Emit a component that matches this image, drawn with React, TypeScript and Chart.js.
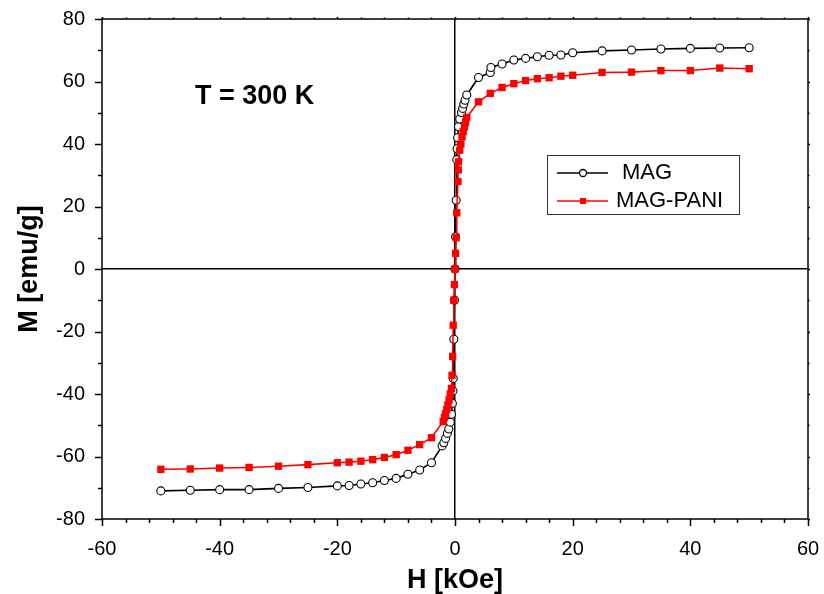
import React, { useEffect, useRef } from "react";
import { Chart, registerables } from "chart.js";

Chart.register(...registerables);

// ---- Data ----
const magH = [
  -50, -45, -40, -35, -30, -25, -20, -18, -16, -14, -12, -10, -8, -6, -4,
  -2.2, -1.9, -1.6, -1.3, -1.05, -0.8, -0.6, -0.45, -0.35, -0.3, -0.2, -0.1, 0,
  0.1, 0.2, 0.3, 0.35, 0.45, 0.6, 0.8, 1.1, 1.3, 1.5, 1.7, 2.0,
  4, 6, 6.1, 8, 10, 12, 14, 16, 18, 20, 25, 30, 35, 40, 45, 50,
];
const magM = [
  -71.0, -70.8, -70.6, -70.6, -70.2, -69.9, -69.4, -69.3, -68.8, -68.4, -67.7, -67.0, -65.7, -64.3, -62.0,
  -56.6, -55.6, -54.2, -52.6, -51.2, -49.0, -46.5, -43.0, -39.0, -35.0, -22.5, -10.0, 0,
  10.3, 22.0, 35.0, 38.5, 42.0, 45.5, 48.0, 50.1, 51.4, 52.8, 54.0, 55.7,
  61.3, 62.9, 64.5, 65.6, 66.9, 67.4, 67.9, 68.4, 68.5, 69.2, 69.8, 70.1, 70.4, 70.6, 70.7, 70.8,
];

const paniH = [
  -50, -45, -40, -35, -30, -25, -20, -18, -16, -14, -12, -10, -8, -6, -4,
  -2, -1.8, -1.6, -1.4, -1.2, -1.0, -0.8, -0.6, -0.5, -0.4, -0.3, -0.2, -0.1, 0,
  0.1, 0.2, 0.3, 0.5, 0.55, 0.6, 0.8, 1.0, 1.2, 1.4, 1.6, 1.8, 2,
  4, 6, 8, 10, 12, 14, 16, 18, 20, 25, 30, 35, 40, 45, 50,
];
const paniM = [
  -64.1, -64.0, -63.7, -63.5, -63.1, -62.6, -62.0, -61.8, -61.5, -61.0, -60.3, -59.4, -58.0, -56.2, -54.0,
  -48.8, -47.5, -46.3, -45.0, -43.5, -41.9, -40.0, -38.2, -34.0, -28.0, -18.0, -10.0, -5.0, 0,
  5.0, 10.0, 18.0, 28.0, 31.7, 34.3, 38.0, 40.0, 42.3, 44.0, 45.5, 47.0, 48.5,
  53.5, 56.2, 58.1, 59.3, 60.3, 60.9, 61.2, 61.7, 62.0, 62.9, 63.0, 63.5, 63.5, 64.3, 64.1,
];

const seriesLabels = ["MAG", "MAG-PANI"];
const xTickLabels = [-60, -40, -20, 0, 20, 40, 60];
const yTickLabels = [-80, -60, -40, -20, 0, 20, 40, 60, 80];
const xMinorStep = 4;
const yMinorStep = 10;
const xTitle = "H [kOe]";
const yTitle = "M [emu/g]";
const noteText = "T = 300 K";

const FONT = "'Liberation Sans', Arial, Helvetica, sans-serif";

const decorPlugin = {
  id: "decor",
  afterDraw(chart: any) {
    const { ctx, chartArea: a, scales } = chart;
    const xs = scales.x;
    const ys = scales.y;
    ctx.save();
    ctx.strokeStyle = "#000";
    ctx.lineWidth = 1.5;
    ctx.beginPath();
    const nx = Math.round((xs.max - xs.min) / xMinorStep);
    for (let i = 0; i <= nx; i++) {
      const v = xs.min + i * xMinorStep;
      const px = Math.round(xs.getPixelForValue(v)) + 0.5;
      const major = xTickLabels.includes(v);
      const len = major ? 7 : 4;
      ctx.moveTo(px, a.bottom);
      ctx.lineTo(px, a.bottom + len);
      ctx.moveTo(px, a.top);
      ctx.lineTo(px, a.top - (major ? 2 : 1.5));
    }
    const ny = Math.round((ys.max - ys.min) / yMinorStep);
    for (let i = 0; i <= ny; i++) {
      const v = ys.min + i * yMinorStep;
      const py = Math.round(ys.getPixelForValue(v)) + 0.5;
      const major = yTickLabels.includes(v);
      const len = major ? 7 : 4;
      ctx.moveTo(a.left, py);
      ctx.lineTo(a.left - len, py);
      ctx.moveTo(a.right, py);
      ctx.lineTo(a.right + (major ? 2 : 1.5), py);
    }
    ctx.stroke();
    ctx.strokeRect(a.left, a.top, a.right - a.left, a.bottom - a.top);

    // annotation text
    ctx.fillStyle = "#000";
    ctx.font = `bold 27px ${FONT}`;
    ctx.textAlign = "left";
    ctx.textBaseline = "middle";
    ctx.fillText(noteText, a.left + 93, a.top + 78);

    // legend
    const bx = a.left + 445;
    const by = a.top + 136;
    const bw = 192;
    const bh = 59;
    ctx.lineWidth = 1;
    ctx.strokeStyle = "#333";
    ctx.strokeRect(bx + 0.5, by + 0.5, bw, bh);
    const rows = [by + 18, by + 46];
    ctx.strokeStyle = "#000";
    ctx.lineWidth = 1.3;
    ctx.beginPath();
    ctx.moveTo(bx + 10, rows[0]);
    ctx.lineTo(bx + 61, rows[0]);
    ctx.stroke();
    ctx.beginPath();
    ctx.arc(bx + 36, rows[0], 3.5, 0, Math.PI * 2);
    ctx.fillStyle = "#fff";
    ctx.fill();
    ctx.stroke();
    ctx.strokeStyle = "#ff0000";
    ctx.beginPath();
    ctx.moveTo(bx + 10, rows[1]);
    ctx.lineTo(bx + 61, rows[1]);
    ctx.stroke();
    ctx.fillStyle = "#ff0000";
    ctx.fillRect(bx + 33, rows[1] - 3, 6, 6);
    ctx.fillStyle = "#000";
    ctx.font = `22px ${FONT}`;
    ctx.textBaseline = "middle";
    ctx.fillText(seriesLabels[0], bx + 75, rows[0]);
    ctx.fillText(seriesLabels[1], bx + 69, rows[1]);
    ctx.restore();
  },
};

export default function App() {
  const ref = useRef<HTMLCanvasElement | null>(null);

  useEffect(() => {
    document.body.style.margin = "0";
    const canvas = ref.current;
    if (!canvas) return;
    Chart.defaults.font.family = FONT;
    Chart.defaults.color = "#000";

    const zeroGrid = (c: any) => (c.tick && c.tick.value === 0 ? "#000" : "rgba(0,0,0,0)");

    const chart = new Chart(canvas, {
      type: "line",
      data: {
        datasets: [
          {
            label: seriesLabels[1],
            data: paniH.map((h, i) => ({ x: h, y: paniM[i] })),
            borderColor: "#ff0000",
            backgroundColor: "#ff0000",
            borderWidth: 1.6,
            pointStyle: "rect",
            pointRadius: 5.2,
            pointBorderWidth: 0,
            pointBackgroundColor: "#ff0000",
            tension: 0,
          },
          {
            label: seriesLabels[0],
            data: magH.map((h, i) => ({ x: h, y: magM[i] })),
            borderColor: "#000",
            backgroundColor: "#fff",
            borderWidth: 1.6,
            pointStyle: "circle",
            pointRadius: 4,
            pointBorderWidth: 1.1,
            pointBackgroundColor: "#fff",
            pointBorderColor: "#000",
            tension: 0,
          },
        ],
      },
      options: {
        animation: false,
        responsive: false,
        maintainAspectRatio: false,
        layout: { padding: { left: 0, top: 19, right: 16, bottom: 0 } },
        plugins: { legend: { display: false }, tooltip: { enabled: false } },
        scales: {
          x: {
            type: "linear",
            min: -60,
            max: 60,
            afterFit: (s: any) => {
              s.height = 75;
            },
            afterBuildTicks: (s: any) => {
              s.ticks = xTickLabels.map((v) => ({ value: v }));
            },
            ticks: {
              font: { size: 20 },
              color: "#000",
              padding: 0,
              maxRotation: 0,
              callback: (v: any) => String(v),
            },
            grid: {
              drawTicks: true,
              tickLength: 18,
              tickColor: "rgba(0,0,0,0)",
              color: zeroGrid,
              lineWidth: 1.5,
            },
            border: { display: false },
            title: {
              display: true,
              text: xTitle,
              font: { size: 27, weight: "bold", lineHeight: 1 },
              padding: { top: 0, bottom: 0 },
              color: "#000",
            },
          },
          y: {
            type: "linear",
            min: -80,
            max: 80,
            afterFit: (s: any) => {
              s.width = 102;
            },
            afterBuildTicks: (s: any) => {
              s.ticks = yTickLabels.map((v) => ({ value: v }));
            },
            ticks: {
              font: { size: 20 },
              color: "#000",
              padding: 0,
              callback: (v: any) => String(v),
            },
            grid: {
              drawTicks: true,
              tickLength: 17,
              tickColor: "rgba(0,0,0,0)",
              color: zeroGrid,
              lineWidth: 1.5,
            },
            border: { display: false },
            title: {
              display: true,
              text: yTitle,
              font: { size: 27, weight: "bold", lineHeight: 1 },
              padding: { top: 16, bottom: 0 },
              color: "#000",
            },
          },
        },
      },
      plugins: [decorPlugin],
    });
    return () => chart.destroy();
  }, []);

  return <canvas ref={ref} width={824} height={594} style={{ display: "block" }} />;
}
